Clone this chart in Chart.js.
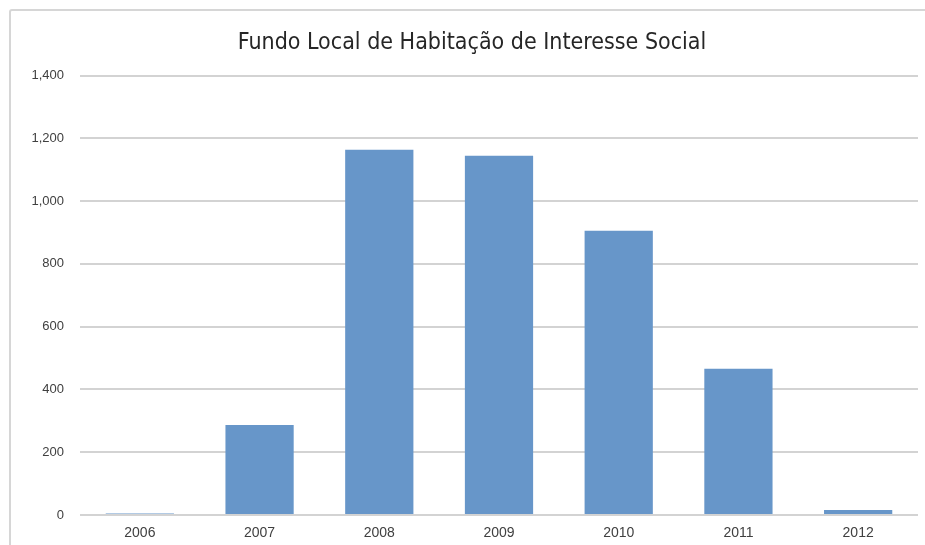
<!DOCTYPE html>
<html>
<head>
<meta charset="utf-8">
<script src="https://cdn.jsdelivr.net/npm/chart.js@4"></script>
<style>
  html, body { margin: 0; padding: 0; background: #fff; overflow: hidden; }
  #frame { position: absolute; left: 9px; top: 9px; width: 1000px; height: 1000px;
           border: 2px solid #d6d6d6; border-radius: 3px; }
  #wrap { position: absolute; left: 0; top: 0; width: 925px; height: 545px; }
</style>
</head>
<body>
<div id="frame"></div>
<div id="wrap"><canvas id="myChart" width="925" height="545"></canvas></div>
<script>
const titulo = 'Fundo Local de Habitação de Interesse Social';
const anos = ['2006', '2007', '2008', '2009', '2010', '2011', '2012'];
const valores = [5, 287, 1164, 1145, 906, 466, 16];
const yTicks = [0, 200, 400, 600, 800, 1000, 1200, 1400];

const ctx = document.getElementById('myChart');
new Chart(ctx, {
    type: 'bar',
    data: {
        labels: anos,
        datasets: [{
            data: valores,
            backgroundColor: '#6796c9',
            barPercentage: 0.57,
            categoryPercentage: 1
        }]
    },
    options: {
        responsive: false,
        animation: false,
        // o título fica um pouco à direita do centro
        layout: { padding: { left: 26, right: 7, top: 0, bottom: 0 } },
        plugins: {
            legend: { display: false },
            tooltip: { enabled: false },
            title: {
                display: true,
                text: titulo,
                color: '#262626',
                font: { family: '"DejaVu Sans Condensed", sans-serif', size: 23, weight: 'normal' },
                padding: { top: 29, bottom: 19 }
            }
        },
        scales: {
            x: {
                grid: { display: false, drawTicks: false },
                border: { display: false },
                ticks: { color: '#404040', font: { family: 'Liberation Sans', size: 14 }, padding: 10 },
                afterFit: function(scale) { scale.height = 30; }
            },
            y: {
                min: yTicks[0],
                max: yTicks[yTicks.length - 1],
                grid: { color: '#d3d3d3', lineWidth: 2, drawTicks: false },
                border: { display: false },
                ticks: {
                    stepSize: yTicks[1] - yTicks[0],
                    color: '#404040',
                    font: { family: 'Liberation Sans', size: 13 },
                    padding: 16
                },
                afterFit: function(scale) { scale.width = 54; }
            }
        }
    }
});
</script>
</body>
</html>
